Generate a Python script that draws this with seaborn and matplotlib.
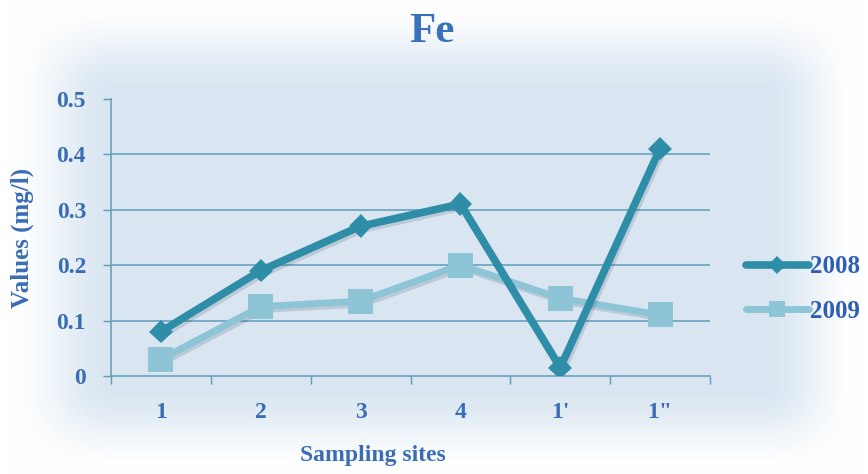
import numpy as np
import pandas as pd
import matplotlib
matplotlib.use("Agg")
import matplotlib.pyplot as plt
import matplotlib.patheffects as pe
from matplotlib.lines import Line2D
import seaborn as sns

# Fe concentration per sampling site
sites = ["1", "2", "3", "4", "1'", "1\""]
fe_2008 = [0.08, 0.19, 0.27, 0.31, 0.015, 0.41]
fe_2009 = [0.03, 0.125, 0.135, 0.20, 0.14, 0.11]
years = ["2008", "2009"]
yticks = [0, 0.1, 0.2, 0.3, 0.4, 0.5]
ytick_labels = ["0", "0.1", "0.2", "0.3", "0.4", "0.5"]

df = pd.DataFrame({
    "site": sites * 2,
    "value": fe_2008 + fe_2009,
    "year": [years[0]] * len(sites) + [years[1]] * len(sites),
})

sns.set_theme(style="white")
plt.rcParams["font.family"] = ["Liberation Serif", "DejaVu Serif"]
plt.rcParams["font.weight"] = "bold"

TEXT = "#3a6db5"
C08 = "#2f8ea7"
C09 = "#8ec5d6"
GRID = "#5e9db9"

W, H = 868, 474
fig = plt.figure(figsize=(W / 100, H / 100), dpi=100)

# soft light-blue panel fading to white at the edges
bg = fig.add_axes([0, 0, 1, 1], zorder=-10)
X, Y = np.meshgrid(np.arange(W) + 0.5, np.arange(H) + 0.5)

def ramp(v, a, b):
    t = np.clip((v - a) / (b - a), 0, 1)
    return t * t * (3 - 2 * t)

mask = (ramp(X, 5, 115) * (1 - ramp(X, 765, 862))
        * ramp(Y, 0, 95) * (1 - ramp(Y, 385, 474)))
glow = np.array([0xd9, 0xe6, 0xf1]) / 255.0
img = 1.0 - (1.0 - glow[None, None, :]) * mask[..., None]
bg.imshow(img, aspect="auto", extent=[0, 1, 0, 1], origin="upper")
bg.axis("off")

ax = fig.add_axes([111 / W, 1 - 376 / H, (710 - 111) / W, (376 - 98.6) / H])
ax.set_facecolor("none")

shadow = [pe.SimpleLineShadow(offset=(1.5, -2), alpha=0.14, shadow_color="#123"), pe.Normal()]

sns.lineplot(data=df[df.year == "2009"], x="site", y="value", ax=ax, color=C09,
             linewidth=5, marker="s", markersize=18, markeredgewidth=0,
             sort=False, legend=False, zorder=3)
sns.lineplot(data=df[df.year == "2008"], x="site", y="value", ax=ax, color=C08,
             linewidth=5.5, marker="D", markersize=12, markeredgewidth=0,
             sort=False, legend=False, zorder=4)
for ln in ax.lines:
    ln.set_path_effects(shadow)

ax.set_xlim(-0.5, len(sites) - 0.5)
ax.set_ylim(0, 0.5)
ax.set_yticks(yticks)
ax.set_yticklabels(ytick_labels)
ax.set_xticks(range(len(sites)))
ax.set_xticklabels(sites)
ax.set_xticks(np.arange(-0.5, len(sites)), minor=True)
ax.tick_params(axis="x", which="major", length=0, pad=19, labelsize=17, labelcolor=TEXT)
ax.tick_params(axis="x", which="minor", length=6, width=1, color=GRID, direction="out", bottom=True)
ax.tick_params(axis="y", length=6, width=1, color=GRID, pad=12, labelsize=17, labelcolor=TEXT, left=True)

for y in yticks[1:-1]:
    ax.axhline(y, color=GRID, linewidth=1.1, zorder=1)
for s in ["top", "right"]:
    ax.spines[s].set_visible(False)
for s in ["left", "bottom"]:
    ax.spines[s].set_color(GRID)
    ax.spines[s].set_linewidth(1.1)

ax.set_xlabel("")
ax.set_ylabel("")
fig.text(22 / W, 1 - 238 / H, "Values (mg/l)", rotation=90, ha="center", va="center",
         fontsize=18, color=TEXT, fontweight="bold")
fig.text(373 / W, 1 - 455 / H, "Sampling sites", ha="center", va="center",
         fontsize=17, color=TEXT, fontweight="bold")
fig.text(432 / W, 1 - 32 / H, "Fe", ha="center", va="center",
         fontsize=31, color="#3b70bb", fontweight="bold")

# legend
handles = [
    Line2D([], [], color=C08, linewidth=5.5, marker="D", markersize=9, markeredgewidth=0),
    Line2D([], [], color=C09, linewidth=5, marker="s", markersize=12, markeredgewidth=0),
]
leg = fig.legend(handles, years, loc="center left", bbox_to_anchor=(746 / W, 1 - 289 / H),
                 frameon=False, borderpad=0, borderaxespad=0, handlelength=2.5,
                 handletextpad=0.05, labelspacing=0.85,
                 prop={"family": "Liberation Serif", "weight": "bold", "size": 18})
for t in leg.get_texts():
    t.set_color("#2f5fb3")

fig.savefig("out.png", dpi=100)
